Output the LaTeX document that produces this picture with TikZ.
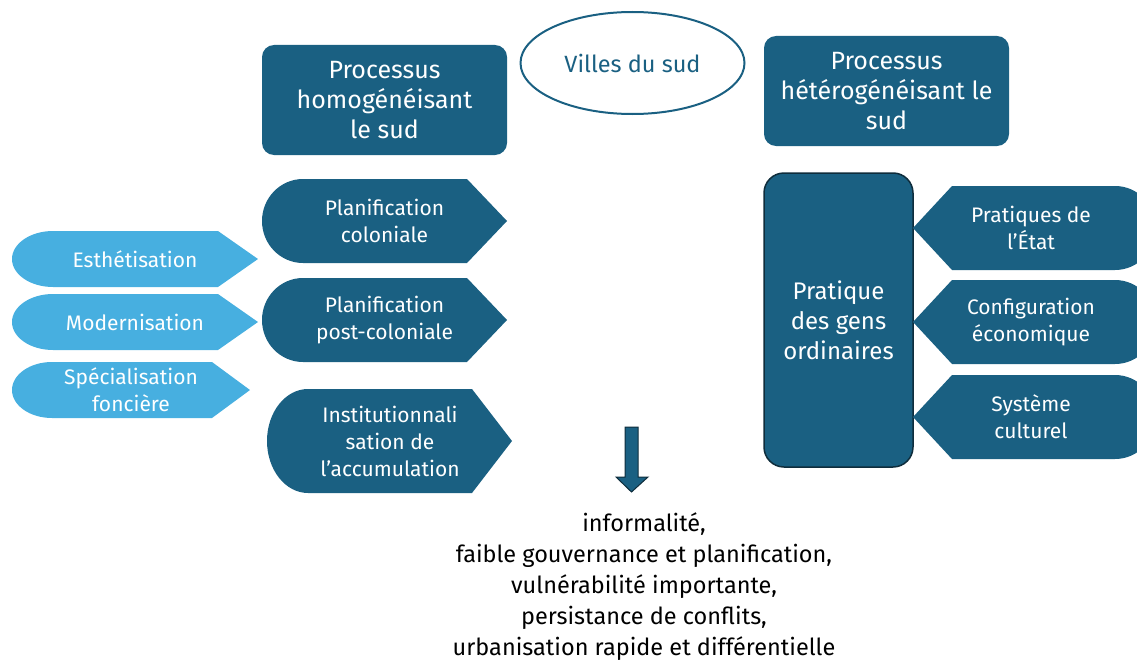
\documentclass[tikz,border=0pt]{standalone}
\usepackage{fontspec}
\setmainfont{Fira Sans}
\usetikzlibrary{shapes.geometric}
\definecolor{darkblue}{HTML}{1A6082}
\definecolor{lightblue}{HTML}{47AFE0}
\definecolor{darkline}{HTML}{0F2D3C}

\begin{document}
\begin{tikzpicture}[x=1pt, y=1pt,
	darkshape/.style={fill=darkblue},
	lightshape/.style={fill=lightblue},
	titlebox/.style={fill=darkblue, rounded corners=12pt, minimum width=245pt, minimum height=110pt,
		text=white, align=center, font=\fontsize{25}{30}\selectfont},
	shapetext/.style={text=white, align=center, font=\fontsize{21}{27}\selectfont},
	bigtext/.style={text=white, align=center, font=\fontsize{24}{30}\selectfont}]
	\useasboundingbox (0,0) rectangle (1137,-661);
	\clip (0,0) rectangle (1137,-661);
	% Titles:
	\node[titlebox] (Homog) at (384.5,-100) {Processus\\homogénéisant\\le sud};
	\node[titlebox] (Heterog) at (886.5,-91) {Processus\\hétérogénéisant le\\sud};
	\draw[darkblue, line width=2pt, fill=white] (632.5,-63) ellipse [x radius=112, y radius=51];
	\node[text=darkblue, font=\fontsize{23.5}{30}\selectfont] (Villes) at (632.5,-63) {Villes du sud};
	% Left shapes:
	\fill[darkshape] (303,-179) -- (467,-179) -- (507,-221) -- (467,-263) -- (303,-263) arc[start angle=270, end angle=90, x radius=41, y radius=42] -- cycle;
	\node[shapetext] (PlanCol) at (384.5,-221) {Planification\\coloniale};
	\fill[darkshape] (303,-278) -- (467,-278) -- (507,-320) -- (467,-362) -- (303,-362) arc[start angle=270, end angle=90, x radius=41, y radius=42] -- cycle;
	\node[shapetext] (PlanPost) at (384.5,-320) {Planification\\post-coloniale};
	\fill[darkshape] (308,-389) -- (472,-389) -- (512,-441) -- (472,-493) -- (308,-493) arc[start angle=270, end angle=90, x radius=41, y radius=52] -- cycle;
	\node[shapetext] (Instit) at (390,-441) {Institutionnali\\sation de\\l’accumulation};
	\fill[lightshape] (53,-231) -- (218,-231) -- (258,-259) -- (218,-287) -- (53,-287) arc[start angle=270, end angle=90, x radius=41, y radius=28] -- cycle;
	\node[shapetext] (Esthet) at (135,-259) {Esthétisation};
	\fill[lightshape] (53,-294) -- (218,-294) -- (258,-322) -- (218,-350) -- (53,-350) arc[start angle=270, end angle=90, x radius=41, y radius=28] -- cycle;
	\node[shapetext] (Modern) at (135,-322) {Modernisation};
	\fill[lightshape] (52,-362) -- (212,-362) -- (250,-390) -- (212,-418) -- (52,-418) arc[start angle=270, end angle=90, x radius=40, y radius=28] -- cycle;
	\node[shapetext] (Special) at (131,-390) {Spécialisation\\foncière};
	% Right shapes:
	\node[fill=darkblue, draw=darkline, line width=1.5pt, rounded corners=20pt, minimum width=149pt, minimum height=294pt,
		bigtext] (Gens) at (838.5,-320) {Pratique\\des gens\\ordinaires};
	\fill[darkshape] (1115,-186) -- (952,-186) -- (913,-228) -- (952,-270) -- (1115,-270) arc[start angle=-90, end angle=90, x radius=41, y radius=42] -- cycle;
	\node[shapetext] (Etat) at (1031,-228) {Pratiques de\\l’État};
	\fill[darkshape] (1115,-280) -- (952,-280) -- (913,-322) -- (952,-364) -- (1115,-364) arc[start angle=-90, end angle=90, x radius=41, y radius=42] -- cycle;
	\node[shapetext] (Eco) at (1031,-322) {Configuration\\économique};
	\fill[darkshape] (1115,-375) -- (952,-375) -- (913,-417) -- (952,-459) -- (1115,-459) arc[start angle=-90, end angle=90, x radius=41, y radius=42] -- cycle;
	\node[shapetext] (Culture) at (1031,-417) {Système\\culturel};
	% Result:
	\draw[fill=darkblue, draw=darkline, line width=1pt] (625,-427) -- (638,-427) -- (638,-477) -- (648,-477) -- (631.5,-492) -- (616,-477) -- (625,-477) -- cycle;
	\node[align=center, font=\fontsize{23.5}{31}\selectfont] (Result) at (644,-587) {informalité,\\faible gouvernance et planification,\\vulnérabilité importante,\\persistance de conflits,\\urbanisation rapide et différentielle};
\end{tikzpicture}
\end{document}
